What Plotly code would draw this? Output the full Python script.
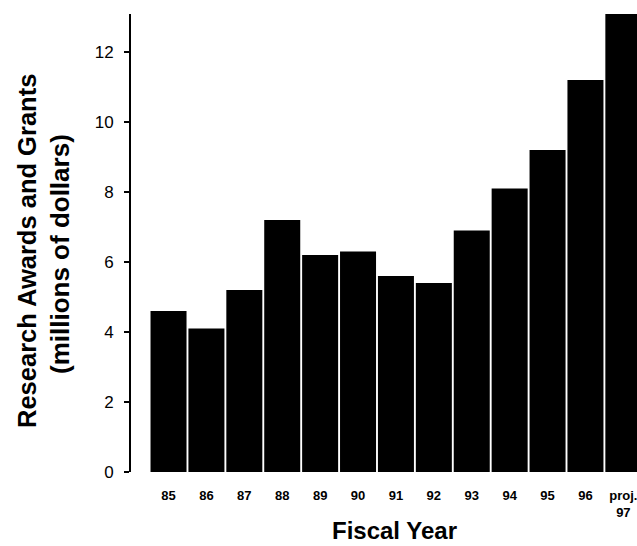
import plotly.graph_objects as go

years = ["85", "86", "87", "88", "89", "90", "91", "92", "93", "94", "95", "96", "proj.<br>97"]
awards = [4.6, 4.1, 5.2, 7.2, 6.2, 6.3, 5.6, 5.4, 6.9, 8.1, 9.2, 11.2, 13.1]
y_ticks = [0, 2, 4, 6, 8, 10, 12]

idx = list(range(len(years)))
y_range = [0, 13.086]

fig = go.Figure(go.Bar(
    x=idx, y=awards,
    marker=dict(color="black", line=dict(width=0)),
    width=0.95,
))

font_family = "Liberation Sans, Arial, sans-serif"
PL, PT, PW, PH = 131, 14, 506, 458


def px(x):
    return (x - PL) / PW


def py(y):
    return (PT + PH - y) / PH


fig.update_layout(
    width=637, height=546,
    margin=dict(l=PL, r=0, t=PT, b=546 - PT - PH),
    paper_bgcolor="white", plot_bgcolor="white",
    showlegend=False,
    font=dict(family=font_family, color="black"),
    xaxis=dict(
        range=[-0.99, 12.36],
        tickvals=idx, ticktext=years,
        tickfont=dict(size=13, family=font_family, weight="bold"),
        showgrid=False, zeroline=False, showline=False, ticks="",
        ticklabelstandoff=14, ticklabeloverflow="allow",
        automargin=False,
    ),
    yaxis=dict(
        range=y_range,
        tickvals=y_ticks,
        tickfont=dict(size=17),
        showgrid=False, zeroline=False,
        showline=True, linecolor="black", linewidth=2,
        ticks="outside", ticklen=5, tickwidth=2, tickcolor="black",
        ticklabelstandoff=7, automargin=False,
    ),
    annotations=[
        dict(text="<b>Research Awards and Grants</b>",
             xref="paper", yref="paper", x=px(27), y=py(251),
             xanchor="center", yanchor="middle", textangle=-90,
             showarrow=False, font=dict(size=25.5)),
        dict(text="<b>(millions of dollars)</b>",
             xref="paper", yref="paper", x=px(60), y=py(254),
             xanchor="center", yanchor="middle", textangle=-90,
             showarrow=False, font=dict(size=26)),
        dict(text="<b>Fiscal Year</b>",
             xref="paper", yref="paper", x=px(394), y=py(530),
             xanchor="center", yanchor="middle",
             showarrow=False, font=dict(size=24)),
    ],
)

fig.write_html("out.html", config={"displayModeBar": False},
               post_script="document.body.style.margin='0px';")
